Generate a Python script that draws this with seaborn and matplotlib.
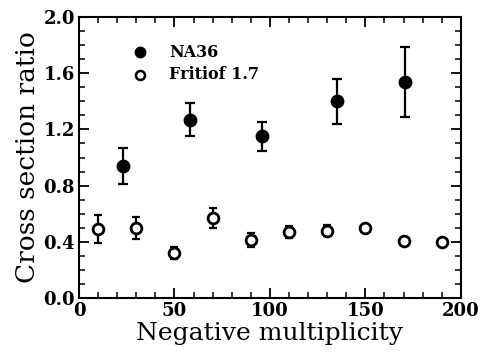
import matplotlib
matplotlib.use("Agg")
import matplotlib.pyplot as plt
import seaborn as sns
import pandas as pd
from matplotlib.ticker import MultipleLocator

na36_x = [23, 58, 96, 135, 171]
na36_y = [0.94, 1.27, 1.15, 1.40, 1.54]
na36_err = [0.13, 0.12, 0.105, 0.16, 0.25]

frit_x = [10, 30, 50, 70, 90, 110, 130, 150, 170, 190]
frit_y = [0.49, 0.50, 0.32, 0.57, 0.41, 0.47, 0.48, 0.50, 0.405, 0.40]
frit_err = [0.10, 0.08, 0.045, 0.07, 0.05, 0.04, 0.04, 0.03, 0.0, 0.0]

sns.set_theme(style="ticks")
plt.rcParams['font.family'] = ['DejaVu Serif']
plt.rcParams['text.color'] = 'black'
plt.rcParams['axes.labelcolor'] = 'black'
plt.rcParams['xtick.color'] = 'black'
plt.rcParams['ytick.color'] = 'black'

fig = plt.figure(figsize=(4.82, 3.54), dpi=100)
ax = fig.add_axes([0.164, 0.158, 0.792, 0.794])

df_na = pd.DataFrame({"x": na36_x, "y": na36_y, "e": na36_err, "s": "NA36"})
df_fr = pd.DataFrame({"x": frit_x, "y": frit_y, "e": frit_err, "s": "Fritiof 1.7"})

ax.errorbar(df_na.x, df_na.y, yerr=df_na.e, fmt='none', ecolor='black',
            elinewidth=1.6, capsize=3.5, capthick=1.6, zorder=2)
ax.errorbar(df_fr.x, df_fr.y, yerr=df_fr.e, fmt='none', ecolor='black',
            elinewidth=1.6, capsize=3.0, capthick=1.6, zorder=2)
sns.scatterplot(data=df_na, x="x", y="y", ax=ax, color='black', s=80,
                edgecolor='black', linewidth=1.0, zorder=3, legend=False)
sns.scatterplot(data=df_fr, x="x", y="y", ax=ax, color='white', s=60,
                edgecolor='black', linewidth=2.0, zorder=3, legend=False)

# legend
ax.plot([32], [1.75], 'o', color='black', markersize=7.5)
ax.plot([32], [1.59], 'o', markerfacecolor='white', markeredgecolor='black',
        markeredgewidth=1.8, markersize=6.5)
ax.text(47, 1.75, "NA36", fontsize=11.5, fontweight='bold', va='center', ha='left')
ax.text(47, 1.59, "Fritiof 1.7", fontsize=11.5, fontweight='bold', va='center', ha='left')

ax.set_xlim(0, 200)
ax.set_ylim(0, 2.0)
ax.xaxis.set_major_locator(MultipleLocator(50))
ax.xaxis.set_minor_locator(MultipleLocator(10))
ax.yaxis.set_major_locator(MultipleLocator(0.4))
ax.yaxis.set_minor_locator(MultipleLocator(0.1))
ax.yaxis.set_major_formatter(matplotlib.ticker.FormatStrFormatter('%.1f'))
ax.tick_params(which='both', direction='in', top=True, right=True, color='black',
               labelcolor='black')
ax.tick_params(which='major', length=7, width=1.3, labelsize=13, pad=3)
ax.tick_params(which='minor', length=4, width=1.1)
for lab in ax.get_xticklabels() + ax.get_yticklabels():
    lab.set_fontweight('bold')
for sp in ax.spines.values():
    sp.set_linewidth(1.5)
    sp.set_color('black')

ax.set_xlabel("Negative multiplicity", fontsize=18, labelpad=1.5, color='black')
ax.set_ylabel("Cross section ratio", fontsize=19, labelpad=2, color='black')

fig.savefig("out.png", dpi=100)
